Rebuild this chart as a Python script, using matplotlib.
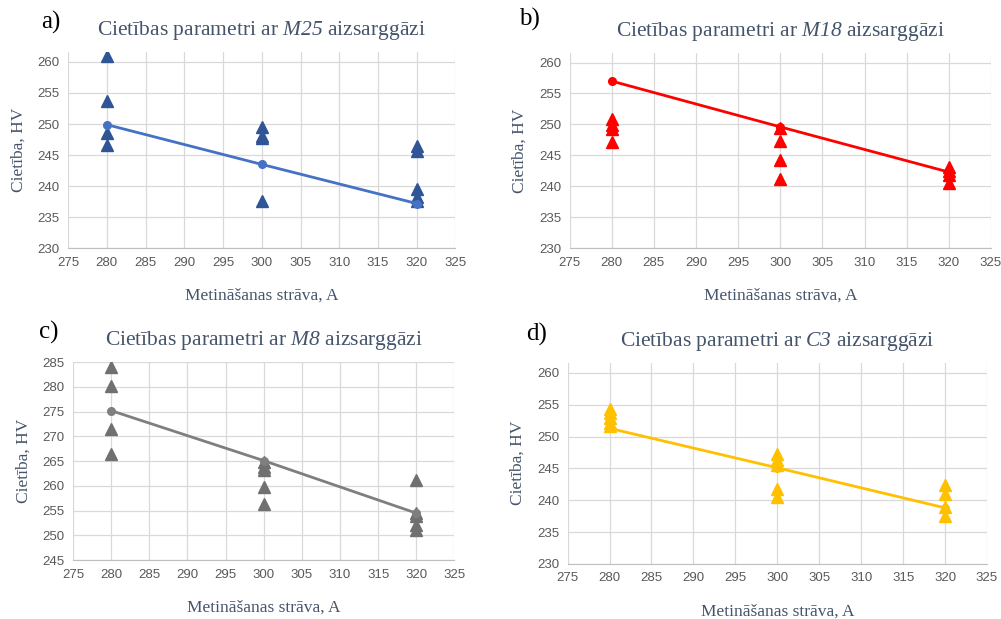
import matplotlib
matplotlib.use('Agg')
import matplotlib.pyplot as plt

plt.rcParams['mathtext.fontset'] = 'custom'
plt.rcParams['mathtext.rm'] = 'Liberation Serif'
plt.rcParams['mathtext.it'] = 'Liberation Serif:italic'
plt.rcParams['mathtext.sf'] = 'Liberation Serif:italic'

# Metināšanas strāva (A)
currents = [280, 300, 320]

# M25
m25_mean = [249.9, 243.5, 237.2]
m25_x = [280, 280, 280, 280, 300, 300, 300, 300, 320, 320, 320, 320, 320]
m25_y = [260.9, 253.7, 248.6, 246.6, 249.5, 248.1, 247.8, 237.6, 246.5, 245.6, 239.5, 238.3, 237.6]

# M18
m18_mean = [257.0, 249.6, 242.3]
m18_x = [280, 280, 280, 280, 300, 300, 300, 300, 320, 320, 320, 320]
m18_y = [250.8, 249.9, 249.2, 247.1, 249.5, 247.4, 244.3, 241.2, 243.2, 242.4, 241.8, 240.5]

# M8
m8_mean = [275.2, 265.1, 254.5]
m8_x = [280, 280, 280, 280, 300, 300, 300, 300, 300, 320, 320, 320, 320, 320]
m8_y = [284.0, 280.1, 271.4, 266.5, 264.9, 263.9, 263.2, 259.7, 256.4, 261.2, 254.6, 254.0, 252.2, 251.1]

# C3
c3_mean = [251.3, 245.1, 238.8]
c3_x = [280, 280, 280, 280, 280, 300, 300, 300, 300, 300, 320, 320, 320, 320]
c3_y = [254.4, 253.7, 252.9, 252.2, 251.7, 247.3, 246.4, 245.6, 241.8, 240.5, 242.4, 241.0, 238.9, 237.6]

panels = [
    ('a)', 'M25', m25_mean, m25_x, m25_y, '#4472C4', '#2F5597', (230, 261.6),
     [0.068, 0.599, 0.387, 0.317], (-0.044, 1.15)),
    ('b)', 'M18', m18_mean, m18_x, m18_y, '#FF0000', '#FF0000', (230, 261.6),
     [0.569, 0.599, 0.421, 0.316], (-0.095, 1.17)),
    ('c)', 'M8', m8_mean, m8_x, m8_y, '#7F7F7F', '#707070', (245, 285),
     [0.073, 0.095, 0.381, 0.320], (-0.063, 1.15)),
    ('d)', 'C3', c3_mean, c3_x, c3_y, '#FFC000', '#FFC000', (230, 261.6),
     [0.567, 0.089, 0.419, 0.325], (-0.074, 1.14)),
]

fig = plt.figure(figsize=(10.01, 6.19), dpi=100)
title_col = '#44546A'

for lab, gas, mean, xs, ys, lcol, mcol, ylim, pos, labpos in panels:
    ax = fig.add_axes(pos)
    ax.plot(xs, ys, linestyle='none', marker='^', markersize=8.5,
            color=mcol, markeredgecolor=mcol, zorder=3)
    ax.plot(currents, mean, color=lcol, linewidth=2, marker='o',
            markersize=5.5, zorder=4)
    ax.set_xlim(275, 325)
    ax.set_ylim(*ylim)
    ax.set_xticks(range(275, 326, 5))
    ax.set_yticks(range(int(ylim[0]), int(ylim[1]) + 1, 5))
    ax.grid(True, color='#D9D9D9', linewidth=0.9)
    ax.set_axisbelow(True)
    for s in ['top', 'right', 'left']:
        ax.spines[s].set_visible(False)
    ax.spines['bottom'].set_color('#BFBFBF')
    ax.tick_params(length=0, labelsize=9.5, labelcolor='#595959', pad=6)
    for t in ax.get_xticklabels() + ax.get_yticklabels():
        t.set_family('Liberation Sans')
    ax.set_xlabel('Metināšanas strāva, A', family='Liberation Serif',
                  fontsize=12.5, color=title_col, labelpad=14)
    ax.set_ylabel('Cietība, HV', family='Liberation Serif',
                  fontsize=12.5, color=title_col, labelpad=8)
    ax.set_title('Cietības parametri ar $\\mathsf{' + gas + '}$ aizsarggāzi',
                 family='Liberation Serif', fontsize=15.5, color=title_col, pad=12)
    ax.text(labpos[0], labpos[1], lab, transform=ax.transAxes, family='Liberation Serif',
            fontsize=18, color='black', ha='center', va='center')

fig.savefig('out.png', dpi=100)
